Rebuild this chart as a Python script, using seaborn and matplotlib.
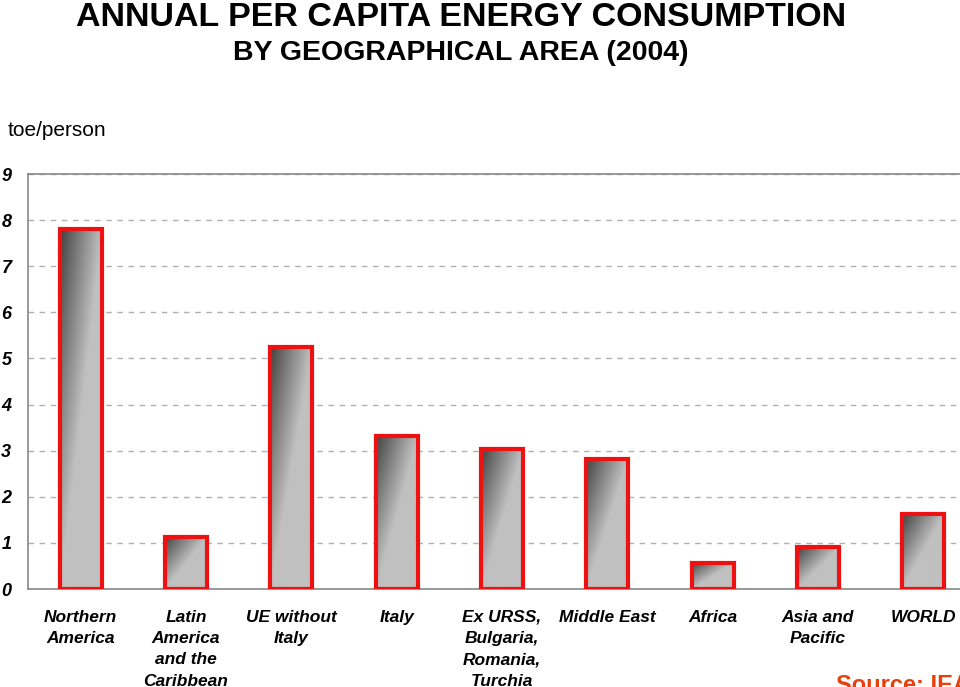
import numpy as np
import pandas as pd
import matplotlib
matplotlib.use("Agg")
import matplotlib.pyplot as plt
import seaborn as sns
from matplotlib.colors import LinearSegmentedColormap

areas = ["Northern\nAmerica", "Latin\nAmerica\nand the\nCaribbean", "UE without\nItaly", "Italy",
         "Ex URSS,\nBulgaria,\nRomania,\nTurchia", "Middle East", "Africa", "Asia and\nPacific", "WORLD"]
toe_per_person = [7.8, 1.13, 5.25, 3.32, 3.04, 2.83, 0.57, 0.91, 1.62]
y_ticks = [0, 1, 2, 3, 4, 5, 6, 7, 8, 9]

df = pd.DataFrame({"area": areas, "toe": toe_per_person})

sns.set_theme(style="white")
plt.rcParams["font.family"] = ["Liberation Sans", "DejaVu Sans"]
plt.rcParams["text.color"] = "black"

fig = plt.figure(figsize=(9.6, 6.87), dpi=100)
ax = fig.add_axes([28 / 960, 1 - 589 / 687, 948 / 960, 415 / 687])

sns.barplot(data=df, x="area", y="toe", width=0.4, ax=ax, color="white")

# diagonal grey gradient inside each bar (dark top-left -> light bottom-right)
grey_ramp = LinearSegmentedColormap.from_list("ramp", ["#424242", "#c0c0c0"])
for bar in ax.patches:
    x0, y0 = bar.get_x(), bar.get_y()
    w, h = bar.get_width(), bar.get_height()
    u = np.linspace(0, 1, 60)[None, :]
    v = np.linspace(0, 1, 200)[:, None]
    shade = np.clip(u + v, 0, 1)
    img = ax.imshow(shade, cmap=grey_ramp, vmin=0, vmax=1, aspect="auto",
                    extent=(x0, x0 + w, y0, y0 + h), origin="upper",
                    interpolation="bilinear", zorder=2)
    img.set_clip_path(bar)
    bar.set_facecolor("none")
    bar.set_edgecolor("#ee1111")
    bar.set_linewidth(3)
    bar.set_zorder(3)

ax.set_xlim(-0.5, len(areas) - 0.5)
ax.set_ylim(0, 9)
ax.set_yticks(y_ticks)
ax.yaxis.grid(True, color="#b0b0b0", linestyle=(0, (4, 4)), linewidth=1)
ax.set_axisbelow(True)
for s in ["left", "bottom", "top", "right"]:
    ax.spines[s].set_color("#888888")
    ax.spines[s].set_linewidth(1.2)

ax.set_xlabel("")
ax.set_ylabel("")
ax.tick_params(axis="y", direction="out", length=6, color="#999999", width=1, pad=6, labelcolor="black")
ax.set_xticks(np.arange(len(areas) - 1) + 0.5, minor=True)
ax.tick_params(axis="x", which="major", length=0, pad=15, labelcolor="black")
ax.tick_params(axis="x", which="minor", direction="out", length=5, color="#999999", width=1)
for lbl in ax.get_yticklabels():
    lbl.set_fontsize(13)
    lbl.set_fontweight("bold")
    lbl.set_fontstyle("italic")
for lbl in ax.get_xticklabels():
    lbl.set_fontsize(12.5)
    lbl.set_fontweight("bold")
    lbl.set_fontstyle("italic")
    lbl.set_linespacing(1.52)
    lbl.set_verticalalignment("top")

fig.text(461 / 960, 1 - 18 / 687, "ANNUAL PER CAPITA ENERGY CONSUMPTION", ha="center", va="center",
         fontsize=24.5, fontweight="bold", color="black")
fig.text(461 / 960, 1 - 53 / 687, "BY GEOGRAPHICAL AREA (2004)", ha="center", va="center",
         fontsize=20.5, fontweight="bold", color="black")
fig.text(8 / 960, 1 - 131 / 687, "toe/person", ha="left", va="center", fontsize=15, color="black")
fig.text(836 / 960, 1 - 686 / 687, "Source: IEA", ha="left", va="center", fontsize=17,
         fontweight="bold", color="#e8400c")

fig.savefig("out.png", dpi=100)
